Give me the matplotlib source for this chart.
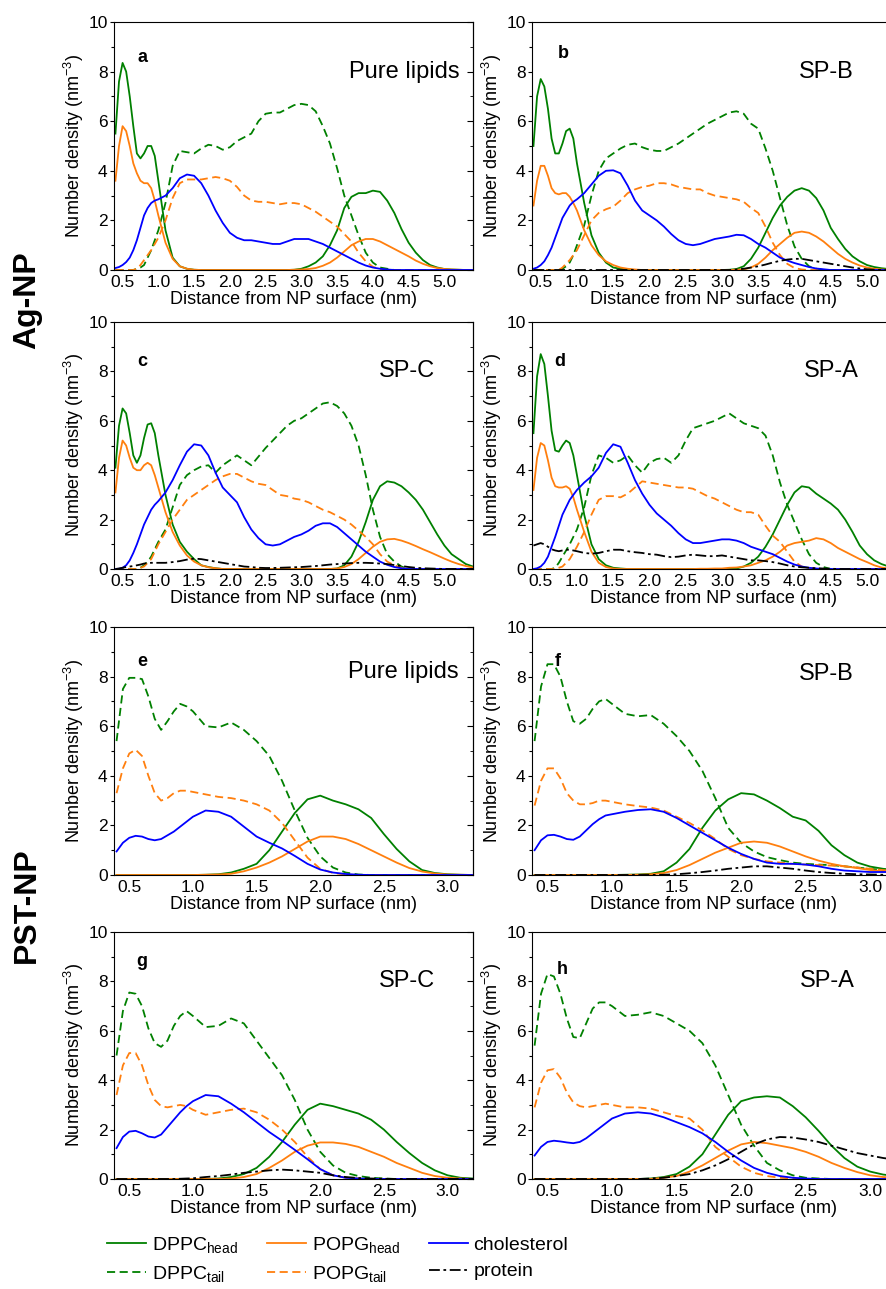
import matplotlib
matplotlib.use('Agg')
import matplotlib.pyplot as plt
from matplotlib.lines import Line2D
from matplotlib.ticker import MultipleLocator, FormatStrFormatter

plt.rcParams['font.family'] = ['Liberation Sans', 'DejaVu Sans']
plt.rcParams['mathtext.fontset'] = 'custom'
plt.rcParams['mathtext.rm'] = 'Liberation Sans'
plt.rcParams['mathtext.it'] = 'Liberation Sans:italic'
plt.rcParams['mathtext.bf'] = 'Liberation Sans:bold'

# ---------------- data ----------------
# distance grids (nm)
x_ag = [0.4, 0.45, 0.5, 0.55, 0.6, 0.65, 0.7, 0.75, 0.8, 0.85, 0.9, 0.95, 1.0,
        1.1, 1.2, 1.3, 1.4, 1.5, 1.6, 1.7, 1.8, 1.9, 2.0,
        2.1, 2.2, 2.3, 2.4, 2.5, 2.6, 2.7, 2.8, 2.9, 3.0,
        3.1, 3.2, 3.3, 3.4, 3.5, 3.6, 3.7, 3.8, 3.9, 4.0,
        4.1, 4.2, 4.3, 4.4, 4.5, 4.6, 4.7, 4.8, 4.9, 5.0,
        5.1, 5.2, 5.3, 5.4]
x_pst = [0.4, 0.45, 0.5, 0.55, 0.6, 0.65, 0.7, 0.75, 0.8, 0.85, 0.9, 0.95, 1.0,
         1.1, 1.2, 1.3, 1.4, 1.5, 1.6, 1.7, 1.8, 1.9, 2.0,
         2.1, 2.2, 2.3, 2.4, 2.5, 2.6, 2.7, 2.8, 2.9, 3.0,
         3.1, 3.2]

# panel a: Ag-NP, pure lipids
a_dppc_head = [5.5, 7.6, 8.35, 8.0, 7.0, 5.8, 4.7, 4.5, 4.7, 5.0, 5.0, 4.6, 3.6,
               1.6, 0.5, 0.15, 0.05, 0.01, 0, 0, 0, 0, 0,
               0, 0, 0, 0, 0, 0, 0, 0, 0.01, 0.05,
               0.15, 0.3, 0.55, 1.0, 1.6, 2.5, 2.95, 3.1, 3.1, 3.2,
               3.15, 2.8, 2.3, 1.65, 1.1, 0.7, 0.4, 0.2, 0.1, 0.04,
               0.02, 0.01, 0, 0]
a_popg_head = [3.6, 5.0, 5.8, 5.6, 5.0, 4.3, 3.9, 3.6, 3.5, 3.5, 3.3, 2.8, 2.2,
               1.1, 0.45, 0.15, 0.05, 0.01, 0, 0, 0, 0, 0,
               0, 0, 0, 0, 0, 0, 0, 0, 0.01, 0.02,
               0.04, 0.08, 0.17, 0.3, 0.5, 0.75, 1.0, 1.15, 1.25, 1.25,
               1.15, 1.0, 0.85, 0.7, 0.55, 0.38, 0.25, 0.15, 0.08, 0.04,
               0.02, 0.01, 0, 0]
a_chol = [0.08, 0.12, 0.2, 0.32, 0.5, 0.8, 1.2, 1.7, 2.2, 2.5, 2.7, 2.8, 2.85,
          3.0, 3.3, 3.7, 3.85, 3.8, 3.5, 3.0, 2.4, 1.9, 1.5,
          1.3, 1.2, 1.2, 1.15, 1.1, 1.05, 1.05, 1.15, 1.25, 1.25,
          1.25, 1.15, 1.05, 0.9, 0.75, 0.6, 0.45, 0.3, 0.18, 0.1,
          0.05, 0.02, 0, 0, 0, 0, 0, 0, 0, 0,
          0, 0, 0, 0]
a_dppc_tail = [0, 0, 0, 0, 0, 0, 0.05, 0.1, 0.2, 0.5, 0.8, 1.2, 1.6,
               2.7, 4.2, 4.8, 4.75, 4.7, 4.9, 5.05, 5.0, 4.85, 4.95,
               5.2, 5.35, 5.5, 6.0, 6.3, 6.35, 6.35, 6.5, 6.65, 6.7,
               6.65, 6.4, 5.8, 5.1, 4.1, 3.0, 2.2, 1.4, 0.7, 0.3,
               0.1, 0.05, 0, 0, 0, 0, 0, 0, 0, 0,
               0, 0, 0, 0]
a_popg_tail = [0, 0, 0, 0, 0, 0, 0.05, 0.2, 0.4, 0.6, 0.8, 1.05, 1.3,
               2.0, 2.9, 3.5, 3.65, 3.65, 3.65, 3.7, 3.75, 3.7, 3.6,
               3.35, 3.0, 2.8, 2.75, 2.75, 2.7, 2.65, 2.7, 2.7, 2.65,
               2.5, 2.35, 2.15, 1.95, 1.75, 1.45, 1.15, 0.7, 0.35, 0.13,
               0.03, 0, 0, 0, 0, 0, 0, 0, 0, 0,
               0, 0, 0, 0]

# panel b: Ag-NP, SP-B
b_dppc_head = [5.0, 7.0, 7.7, 7.4, 6.5, 5.3, 4.7, 4.7, 5.1, 5.6, 5.7, 5.3, 4.3,
               2.7, 1.4, 0.7, 0.3, 0.1, 0.05, 0.02, 0, 0, 0,
               0, 0, 0, 0, 0, 0, 0, 0, 0, 0,
               0.01, 0.04, 0.15, 0.45, 0.9, 1.5, 2.1, 2.6, 2.95, 3.2,
               3.3, 3.2, 2.9, 2.4, 1.7, 1.25, 0.85, 0.55, 0.35, 0.2,
               0.12, 0.07, 0.04, 0.02]
b_popg_head = [2.6, 3.6, 4.2, 4.2, 3.8, 3.3, 3.1, 3.05, 3.1, 3.1, 2.95, 2.7, 2.4,
               1.6, 1.0, 0.6, 0.35, 0.2, 0.1, 0.05, 0.02, 0, 0,
               0, 0, 0, 0, 0, 0, 0, 0, 0, 0,
               0, 0.01, 0.02, 0.1, 0.25, 0.5, 0.8, 1.05, 1.3, 1.5,
               1.55, 1.5, 1.35, 1.15, 0.9, 0.65, 0.45, 0.3, 0.18, 0.1,
               0.05, 0.02, 0.01, 0]
b_chol = [0.05, 0.1, 0.2, 0.35, 0.6, 0.9, 1.3, 1.7, 2.1, 2.35, 2.6, 2.75, 2.85,
          3.1, 3.45, 3.8, 4.0, 4.02, 3.9, 3.4, 2.8, 2.4, 2.2,
          2.0, 1.75, 1.45, 1.2, 1.05, 1.0, 1.05, 1.15, 1.25, 1.3,
          1.35, 1.42, 1.4, 1.25, 1.05, 0.9, 0.7, 0.5, 0.38, 0.28,
          0.2, 0.12, 0.06, 0.03, 0, 0, 0, 0, 0, 0,
          0, 0, 0, 0]
b_dppc_tail = [0, 0, 0, 0, 0, 0, 0, 0, 0.05, 0.15, 0.3, 0.6, 1.0,
               1.8, 3.0, 4.0, 4.5, 4.7, 4.9, 5.05, 5.1, 4.95, 4.85,
               4.8, 4.8, 4.95, 5.1, 5.3, 5.5, 5.7, 5.9, 6.05, 6.2,
               6.35, 6.4, 6.3, 5.9, 5.7, 4.9, 4.0, 2.9, 1.8, 0.95,
               0.45, 0.15, 0.05, 0, 0, 0, 0, 0, 0, 0,
               0, 0, 0, 0]
b_popg_tail = [0, 0, 0, 0, 0, 0, 0, 0, 0.1, 0.25, 0.4, 0.6, 0.8,
               1.4, 2.0, 2.3, 2.45, 2.55, 2.8, 3.1, 3.25, 3.35, 3.4,
               3.5, 3.5, 3.45, 3.35, 3.3, 3.25, 3.25, 3.1, 3.0, 2.95,
               2.9, 2.85, 2.75, 2.5, 2.3, 1.75, 1.1, 0.6, 0.25, 0.08,
               0.02, 0, 0, 0, 0, 0, 0, 0, 0, 0,
               0, 0, 0, 0]
b_protein = [0, 0, 0, 0, 0, 0, 0, 0, 0, 0, 0, 0, 0,
             0, 0, 0, 0, 0, 0, 0, 0, 0, 0,
             0, 0, 0, 0, 0, 0, 0, 0, 0, 0,
             0, 0.02, 0.05, 0.1, 0.15, 0.22, 0.3, 0.37, 0.42, 0.45,
             0.45, 0.4, 0.35, 0.3, 0.25, 0.2, 0.15, 0.1, 0.06, 0.03,
             0.01, 0, 0, 0]

# panel c: Ag-NP, SP-C
c_dppc_head = [4.1, 5.8, 6.5, 6.3, 5.5, 4.6, 4.3, 4.6, 5.3, 5.85, 5.9, 5.5, 4.6,
               3.0, 1.8, 1.1, 0.7, 0.4, 0.15, 0.08, 0.03, 0, 0,
               0, 0, 0, 0, 0, 0, 0, 0, 0, 0,
               0, 0, 0, 0, 0.02, 0.15, 0.5, 1.1, 1.9, 2.8,
               3.35, 3.55, 3.5, 3.35, 3.1, 2.8, 2.4, 1.9, 1.4, 0.95,
               0.6, 0.4, 0.2, 0.1]
c_popg_head = [3.1, 4.5, 5.2, 5.0, 4.5, 4.1, 4.0, 4.0, 4.2, 4.3, 4.2, 3.8, 3.3,
               2.3, 1.5, 0.95, 0.55, 0.3, 0.15, 0.07, 0.03, 0, 0,
               0, 0, 0, 0, 0, 0, 0, 0, 0, 0,
               0, 0, 0, 0, 0.02, 0.08, 0.2, 0.4, 0.65, 0.9,
               1.1, 1.2, 1.22, 1.15, 1.05, 0.93, 0.8, 0.68, 0.55, 0.42,
               0.3, 0.2, 0.12, 0.06]
c_chol = [0, 0.01, 0.05, 0.15, 0.35, 0.65, 1.0, 1.4, 1.8, 2.1, 2.4, 2.6, 2.75,
          3.1, 3.6, 4.2, 4.75, 5.05, 5.0, 4.6, 3.9, 3.3, 3.0,
          2.7, 2.1, 1.6, 1.25, 1.0, 0.95, 1.0, 1.15, 1.3, 1.4,
          1.55, 1.75, 1.85, 1.85, 1.7, 1.45, 1.2, 0.95, 0.7, 0.5,
          0.3, 0.17, 0.08, 0.03, 0, 0, 0, 0, 0, 0,
          0, 0, 0, 0]
c_dppc_tail = [0, 0, 0, 0, 0, 0, 0, 0.05, 0.15, 0.3, 0.5, 0.8, 1.1,
               1.6, 2.5, 3.4, 3.8, 4.0, 4.15, 4.2, 3.9, 4.2, 4.4,
               4.6, 4.4, 4.2, 4.55, 4.9, 5.2, 5.5, 5.8, 6.0, 6.1,
               6.3, 6.5, 6.7, 6.75, 6.6, 6.3, 5.8, 5.0, 3.8, 2.4,
               1.3, 0.6, 0.3, 0.1, 0, 0, 0, 0, 0, 0,
               0, 0, 0, 0]
c_popg_tail = [0, 0, 0, 0, 0, 0, 0, 0.05, 0.1, 0.25, 0.4, 0.7, 1.0,
               1.5, 2.0, 2.4, 2.8, 3.0, 3.2, 3.4, 3.6, 3.75, 3.85,
               3.85, 3.7, 3.55, 3.45, 3.4, 3.2, 3.0, 2.95, 2.85, 2.8,
               2.7, 2.55, 2.4, 2.3, 2.15, 2.0, 1.8, 1.55, 1.3, 1.0,
               0.6, 0.3, 0.15, 0.05, 0, 0, 0, 0, 0, 0,
               0, 0, 0, 0]
c_protein = [0, 0.02, 0.05, 0.08, 0.1, 0.12, 0.15, 0.18, 0.22, 0.24, 0.25, 0.25, 0.25,
             0.25, 0.28, 0.32, 0.38, 0.42, 0.4, 0.35, 0.3, 0.25, 0.2,
             0.15, 0.1, 0.08, 0.05, 0.04, 0.04, 0.05, 0.06, 0.07, 0.08,
             0.1, 0.12, 0.15, 0.18, 0.2, 0.22, 0.24, 0.25, 0.25, 0.24,
             0.22, 0.2, 0.16, 0.12, 0.08, 0.05, 0.03, 0.02, 0.01, 0,
             0, 0, 0, 0]

# panel d: Ag-NP, SP-A
d_dppc_head = [5.5, 7.8, 8.7, 8.3, 7.0, 5.6, 4.8, 4.75, 5.0, 5.2, 5.1, 4.6, 3.8,
               2.2, 1.0, 0.4, 0.15, 0.05, 0.02, 0, 0, 0, 0,
               0, 0, 0, 0, 0, 0, 0, 0, 0, 0,
               0, 0.02, 0.1, 0.25, 0.5, 0.9, 1.4, 2.0, 2.6, 3.1,
               3.35, 3.3, 3.05, 2.85, 2.65, 2.4, 2.0, 1.5, 0.95, 0.6,
               0.35, 0.2, 0.1, 0.07]
d_popg_head = [3.2, 4.5, 5.1, 5.0, 4.4, 3.7, 3.35, 3.3, 3.3, 3.35, 3.25, 2.9, 2.4,
               1.5, 0.7, 0.25, 0.08, 0.02, 0, 0, 0, 0, 0,
               0, 0, 0, 0, 0, 0, 0.01, 0.01, 0.02, 0.02,
               0.05, 0.06, 0.1, 0.15, 0.25, 0.35, 0.5, 0.7, 0.95, 1.05,
               1.1, 1.15, 1.25, 1.2, 1.05, 0.85, 0.7, 0.55, 0.4, 0.28,
               0.15, 0.06, 0.02, 0]
d_chol = [0, 0.03, 0.1, 0.25, 0.5, 0.9, 1.3, 1.75, 2.2, 2.5, 2.8, 3.0, 3.2,
          3.5, 3.75, 4.1, 4.7, 5.05, 4.95, 4.3, 3.6, 3.05, 2.6,
          2.25, 2.0, 1.75, 1.45, 1.2, 1.05, 1.05, 1.1, 1.15, 1.2,
          1.2, 1.15, 1.05, 0.9, 0.8, 0.7, 0.6, 0.45, 0.3, 0.18,
          0.1, 0.05, 0.02, 0, 0, 0, 0, 0, 0, 0,
          0, 0, 0, 0]
d_dppc_tail = [0, 0, 0, 0, 0, 0, 0.05, 0.25, 0.5, 0.75, 1.0, 1.3, 1.6,
               2.5, 3.8, 4.6, 4.5, 4.3, 4.4, 4.6, 4.2, 3.9, 4.3,
               4.45, 4.5, 4.3, 4.6, 5.2, 5.7, 5.8, 5.9, 6.0, 6.15,
               6.3, 6.1, 5.9, 5.8, 5.7, 5.4, 4.6, 3.5, 2.6, 1.9,
               1.2, 0.6, 0.25, 0.08, 0, 0, 0, 0, 0, 0,
               0, 0, 0, 0]
d_popg_tail = [0, 0, 0, 0, 0, 0, 0, 0.05, 0.1, 0.25, 0.4, 0.65, 0.9,
               1.5, 2.2, 2.8, 2.95, 2.95, 2.9, 3.05, 3.3, 3.55, 3.5,
               3.45, 3.4, 3.35, 3.3, 3.3, 3.25, 3.1, 2.95, 2.85, 2.7,
               2.55, 2.4, 2.3, 2.3, 2.2, 1.75, 1.35, 1.1, 0.7, 0.3,
               0.1, 0.03, 0, 0, 0, 0, 0, 0, 0, 0,
               0, 0, 0, 0]
d_protein = [0.95, 1.0, 1.05, 1.0, 0.9, 0.8, 0.75, 0.72, 0.75, 0.78, 0.78, 0.75, 0.72,
             0.65, 0.62, 0.65, 0.72, 0.78, 0.78, 0.72, 0.68, 0.65, 0.6,
             0.58, 0.52, 0.48, 0.5, 0.55, 0.58, 0.55, 0.52, 0.52, 0.55,
             0.5, 0.45, 0.4, 0.35, 0.35, 0.32, 0.28, 0.22, 0.15, 0.1,
             0.07, 0.05, 0.03, 0.02, 0.01, 0, 0, 0, 0, 0,
             0, 0, 0, 0]

# panel e: PST-NP, pure lipids
e_dppc_head = [0, 0, 0, 0, 0, 0, 0, 0, 0, 0, 0, 0, 0,
               0.01, 0.03, 0.1, 0.25, 0.45, 1.0, 1.75, 2.5, 3.05, 3.2,
               3.0, 2.85, 2.65, 2.3, 1.65, 1.05, 0.55, 0.2, 0.08, 0.03,
               0.01, 0]
e_popg_head = [0, 0, 0, 0, 0, 0, 0, 0, 0, 0, 0, 0, 0,
               0.01, 0.02, 0.05, 0.15, 0.3, 0.5, 0.75, 1.05, 1.35, 1.55,
               1.55, 1.45, 1.25, 1.0, 0.75, 0.5, 0.28, 0.14, 0.06, 0.02,
               0.01, 0]
e_chol = [0.95, 1.3, 1.5, 1.58, 1.55, 1.45, 1.4, 1.45, 1.6, 1.75, 1.95, 2.15, 2.35,
          2.6, 2.55, 2.35, 1.95, 1.55, 1.3, 1.07, 0.77, 0.45, 0.22,
          0.1, 0.04, 0.01, 0, 0, 0, 0, 0, 0, 0,
          0, 0]
e_dppc_tail = [5.4, 7.5, 7.95, 7.95, 7.9, 7.2, 6.3, 5.85, 6.2, 6.6, 6.9, 6.8, 6.6,
               6.0, 5.95, 6.15, 5.85, 5.4, 4.8, 3.8, 2.6, 1.5, 0.75,
               0.3, 0.1, 0.02, 0, 0, 0, 0, 0, 0, 0,
               0, 0]
e_popg_tail = [3.3, 4.3, 4.9, 5.05, 4.8, 4.0, 3.3, 3.0, 3.1, 3.3, 3.4, 3.4, 3.35,
               3.25, 3.15, 3.1, 3.0, 2.85, 2.6, 2.1, 1.4, 0.7, 0.25,
               0.08, 0.02, 0, 0, 0, 0, 0, 0, 0, 0,
               0, 0]

# panel f: PST-NP, SP-B
f_dppc_head = [0, 0, 0, 0, 0, 0, 0, 0, 0, 0, 0, 0, 0,
               0.01, 0.02, 0.05, 0.15, 0.5, 1.05, 1.9, 2.6, 3.05, 3.3,
               3.25, 3.0, 2.7, 2.35, 2.2, 1.78, 1.2, 0.8, 0.5, 0.34,
               0.25, 0.2]
f_popg_head = [0, 0, 0, 0, 0, 0, 0, 0, 0, 0, 0, 0, 0,
               0, 0.01, 0.03, 0.08, 0.2, 0.4, 0.65, 0.9, 1.1, 1.3,
               1.35, 1.3, 1.15, 0.95, 0.75, 0.58, 0.45, 0.35, 0.28, 0.2,
               0.15, 0.1]
f_chol = [1.0, 1.4, 1.6, 1.62, 1.55, 1.45, 1.42, 1.55, 1.8, 2.05, 2.25, 2.4, 2.45,
          2.55, 2.62, 2.65, 2.55, 2.3, 2.0, 1.7, 1.4, 1.1, 0.85,
          0.65, 0.5, 0.45, 0.45, 0.42, 0.35, 0.25, 0.18, 0.15, 0.12,
          0.12, 0.12]
f_dppc_tail = [5.4, 7.6, 8.5, 8.5, 8.0, 7.0, 6.2, 6.1, 6.3, 6.7, 7.0, 7.1, 6.9,
               6.5, 6.4, 6.45, 6.1, 5.6, 5.0, 4.2, 3.1, 1.9, 1.3,
               0.95, 0.72, 0.6, 0.5, 0.45, 0.42, 0.4, 0.35, 0.3, 0.25,
               0.2, 0.15]
f_popg_tail = [2.8, 3.8, 4.3, 4.3, 3.9, 3.3, 3.0, 2.85, 2.85, 2.9, 3.0, 3.0, 2.95,
               2.85, 2.78, 2.72, 2.6, 2.35, 2.1, 1.8, 1.45, 1.05, 0.8,
               0.65, 0.55, 0.5, 0.45, 0.42, 0.4, 0.38, 0.35, 0.3, 0.25,
               0.2, 0.15]
f_protein = [0, 0, 0, 0, 0, 0, 0, 0, 0, 0, 0, 0, 0,
             0, 0, 0, 0.01, 0.03, 0.07, 0.12, 0.18, 0.25, 0.3,
             0.35, 0.35, 0.3, 0.25, 0.18, 0.12, 0.08, 0.05, 0.03, 0.02,
             0.01, 0]

# panel g: PST-NP, SP-C
g_dppc_head = [0, 0, 0, 0, 0, 0, 0, 0, 0, 0, 0, 0, 0,
               0, 0.02, 0.08, 0.2, 0.45, 0.9, 1.5, 2.2, 2.8, 3.05,
               2.95, 2.8, 2.65, 2.4, 2.0, 1.5, 1.05, 0.65, 0.35, 0.15,
               0.05, 0.02]
g_popg_head = [0, 0, 0, 0, 0, 0, 0, 0, 0, 0, 0, 0, 0,
               0, 0, 0.02, 0.08, 0.2, 0.45, 0.75, 1.1, 1.35, 1.48,
               1.48, 1.42, 1.3, 1.1, 0.9, 0.65, 0.45, 0.25, 0.12, 0.05,
               0.02, 0]
g_chol = [1.25, 1.7, 1.92, 1.95, 1.85, 1.72, 1.68, 1.8, 2.1, 2.4, 2.7, 2.95, 3.15,
          3.4, 3.35, 3.05, 2.7, 2.3, 1.9, 1.55, 1.18, 0.8, 0.4,
          0.15, 0.05, 0.02, 0, 0, 0, 0, 0, 0, 0,
          0, 0]
g_dppc_tail = [5.0, 6.8, 7.55, 7.5, 7.0, 6.1, 5.5, 5.35, 5.6, 6.2, 6.6, 6.8, 6.6,
               6.15, 6.2, 6.5, 6.3, 5.6, 4.9, 4.2, 3.2, 2.0, 1.1,
               0.55, 0.25, 0.12, 0.05, 0.02, 0, 0, 0, 0, 0,
               0, 0]
g_popg_tail = [3.4, 4.6, 5.1, 5.1, 4.6, 3.8, 3.2, 2.95, 2.9, 2.95, 3.0, 2.95, 2.8,
               2.6, 2.7, 2.8, 2.85, 2.7, 2.4, 2.0, 1.5, 0.9, 0.4,
               0.15, 0.05, 0.02, 0, 0, 0, 0, 0, 0, 0,
               0, 0]
g_protein = [0, 0, 0, 0, 0, 0, 0, 0, 0, 0, 0.01, 0.02, 0.03,
             0.08, 0.12, 0.18, 0.25, 0.3, 0.35, 0.38, 0.35, 0.3, 0.25,
             0.15, 0.08, 0.04, 0.02, 0.01, 0, 0, 0, 0, 0,
             0, 0]

# panel h: PST-NP, SP-A
h_dppc_head = [0, 0, 0, 0, 0, 0, 0, 0, 0, 0, 0, 0, 0,
               0, 0, 0.02, 0.08, 0.2, 0.5, 1.0, 1.8, 2.6, 3.15,
               3.3, 3.35, 3.3, 2.95, 2.5, 1.95, 1.35, 0.85, 0.5, 0.3,
               0.18, 0.12]
h_popg_head = [0, 0, 0, 0, 0, 0, 0, 0, 0, 0, 0, 0, 0,
               0, 0, 0, 0.05, 0.12, 0.3, 0.55, 0.85, 1.15, 1.4,
               1.5, 1.45, 1.35, 1.25, 1.1, 0.9, 0.65, 0.45, 0.28, 0.15,
               0.08, 0.05]
h_chol = [0.95, 1.3, 1.5, 1.55, 1.52, 1.48, 1.45, 1.5, 1.65, 1.85, 2.05, 2.25, 2.45,
          2.65, 2.7, 2.65, 2.5, 2.3, 2.1, 1.85, 1.5, 1.1, 0.75,
          0.45, 0.25, 0.12, 0.05, 0.02, 0, 0, 0, 0, 0,
          0, 0]
h_dppc_tail = [5.4, 7.5, 8.3, 8.2, 7.5, 6.5, 5.75, 5.7, 6.3, 6.9, 7.15, 7.15, 7.0,
               6.6, 6.65, 6.75, 6.6, 6.3, 6.0, 5.5, 4.6, 3.4, 2.2,
               1.35, 0.65, 0.35, 0.15, 0.05, 0.02, 0, 0, 0, 0,
               0, 0]
h_popg_tail = [2.9, 3.9, 4.4, 4.45, 4.1, 3.5, 3.1, 2.95, 2.9, 2.95, 3.0, 3.05, 3.0,
               2.9, 2.9, 2.85, 2.7, 2.55, 2.45, 2.0, 1.3, 0.9, 0.5,
               0.25, 0.12, 0.05, 0.02, 0, 0, 0, 0, 0, 0,
               0, 0]
h_protein = [0, 0, 0, 0, 0, 0, 0, 0, 0, 0, 0, 0, 0,
             0, 0, 0.02, 0.05, 0.12, 0.2, 0.35, 0.55, 0.8, 1.1,
             1.4, 1.6, 1.7, 1.68, 1.6, 1.5, 1.35, 1.2, 1.05, 0.95,
             0.85, 0.78]

panel_letters = ['a', 'b', 'c', 'd', 'e', 'f', 'g', 'h']
panel_titles = ['Pure lipids', 'SP-B', 'SP-C', 'SP-A',
                'Pure lipids', 'SP-B', 'SP-C', 'SP-A']
ag_xticks = [0.5, 1.0, 1.5, 2.0, 2.5, 3.0, 3.5, 4.0, 4.5, 5.0]
pst_xticks = [0.5, 1.0, 1.5, 2.0, 2.5, 3.0]
series_names = ['DPPC$_{\\mathrm{head}}$', 'DPPC$_{\\mathrm{tail}}$',
                'POPG$_{\\mathrm{head}}$', 'POPG$_{\\mathrm{tail}}$',
                'cholesterol', 'protein']

panels = [
    (x_ag, [a_dppc_head, a_dppc_tail, a_popg_head, a_popg_tail, a_chol, None]),
    (x_ag, [b_dppc_head, b_dppc_tail, b_popg_head, b_popg_tail, b_chol, b_protein]),
    (x_ag, [c_dppc_head, c_dppc_tail, c_popg_head, c_popg_tail, c_chol, c_protein]),
    (x_ag, [d_dppc_head, d_dppc_tail, d_popg_head, d_popg_tail, d_chol, d_protein]),
    (x_pst, [e_dppc_head, e_dppc_tail, e_popg_head, e_popg_tail, e_chol, None]),
    (x_pst, [f_dppc_head, f_dppc_tail, f_popg_head, f_popg_tail, f_chol, f_protein]),
    (x_pst, [g_dppc_head, g_dppc_tail, g_popg_head, g_popg_tail, g_chol, g_protein]),
    (x_pst, [h_dppc_head, h_dppc_tail, h_popg_head, h_popg_tail, h_chol, h_protein]),
]

# ---------------- styles / layout ----------------
GREEN = '#008000'
ORANGE = '#ff7f0e'
BLUE = '#0000ff'
line_styles = [
    dict(color=GREEN, ls='-'),
    dict(color=GREEN, dashes=(4.5, 2.5)),
    dict(color=ORANGE, ls='-'),
    dict(color=ORANGE, dashes=(4.5, 2.5)),
    dict(color=BLUE, ls='-'),
    dict(color='black', dashes=(6, 2, 1.5, 2)),
]

W, H = 887, 1289
col_px = [(114, 473), (532, 896)]
row_px = [(22, 270), (322, 569), (627, 875), (932, 1179)]
letter_pos = [(0.08, 0.855), (0.085, 0.875), (0.08, 0.84), (0.077, 0.84),
              (0.078, 0.86), (0.072, 0.86), (0.078, 0.88), (0.082, 0.85)]
title_pos = [(0.963, 0.80), (0.883, 0.80), (0.894, 0.80), (0.898, 0.80),
             (0.96, 0.82), (0.883, 0.81), (0.894, 0.80), (0.887, 0.80)]

fig = plt.figure(figsize=(W / 100, H / 100), dpi=100)

for i, (xs, ys_list) in enumerate(panels):
    r, c = divmod(i, 2)
    x0, x1 = col_px[c]
    y0, y1 = row_px[r]
    ax = fig.add_axes([x0 / W, 1 - y1 / H, (x1 - x0) / W, (y1 - y0) / H])
    for ys, st in zip(ys_list, line_styles):
        if ys is None:
            continue
        ax.plot(xs, ys, lw=1.3, **st)

    if r < 2:
        ax.set_xlim(0.38, 5.4)
        ax.set_xticks(ag_xticks)
    else:
        ax.set_xlim(0.38, 3.2)
        ax.set_xticks(pst_xticks)
    ax.xaxis.set_major_formatter(FormatStrFormatter('%.1f'))
    ax.set_ylim(0, 10)
    ax.yaxis.set_major_locator(MultipleLocator(2))
    ax.yaxis.set_minor_locator(MultipleLocator(1))
    ax.tick_params(axis='y', which='major', direction='out', length=3, width=0.8,
                   pad=1.5, labelsize=12.5)
    ax.tick_params(axis='y', which='minor', direction='out', length=2, width=0.8)
    ax.tick_params(axis='x', direction='in', length=0, pad=3.5, labelsize=12.5)
    sec = ax.secondary_yaxis('right')
    sec.yaxis.set_major_locator(MultipleLocator(2))
    sec.yaxis.set_minor_locator(MultipleLocator(1))
    sec.tick_params(which='major', direction='in', length=4, labelright=False)
    sec.tick_params(which='minor', direction='in', length=2.5)
    for sp in list(ax.spines.values()) + [sec.spines['right']]:
        sp.set_linewidth(0.8)

    ax.set_xlabel('Distance from NP surface (nm)', fontsize=13, labelpad=1)
    ax.set_ylabel('Number density (nm$^{-3}$)', fontsize=13, labelpad=2)

    lx, ly = letter_pos[i]
    ax.text(lx, ly, panel_letters[i], transform=ax.transAxes, fontsize=13,
            fontweight='bold', ha='center', va='center')
    tx, ty = title_pos[i]
    ax.text(tx, ty, panel_titles[i], transform=ax.transAxes, fontsize=17,
            ha='right', va='center')

fig.text(27 / W, 1 - 300 / H, 'Ag-NP', rotation=90, fontsize=23,
         fontweight='bold', ha='center', va='center')
fig.text(27 / W, 1 - 905 / H, 'PST-NP', rotation=90, fontsize=23,
         fontweight='bold', ha='center', va='center')

handles = [Line2D([], [], lw=1.3, **st) for st in line_styles]
fig.legend(handles, series_names, ncol=3, loc='upper left',
           bbox_to_anchor=(107 / W, 1 - 1235 / H), frameon=False,
           fontsize=14, handlelength=2.0, handletextpad=0.3,
           columnspacing=1.5, labelspacing=0.45, borderpad=0, borderaxespad=0)

fig.savefig('out.png', dpi=100)
